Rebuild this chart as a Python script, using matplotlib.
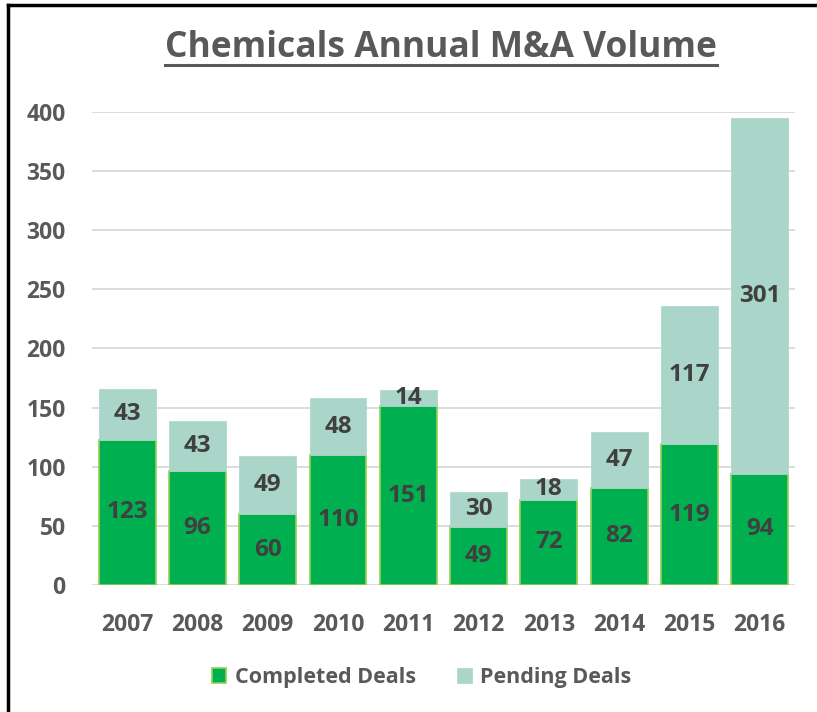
import matplotlib
matplotlib.use("Agg")
import matplotlib.pyplot as plt
from matplotlib.lines import Line2D
import numpy as np

years = ["2007", "2008", "2009", "2010", "2011", "2012", "2013", "2014", "2015", "2016"]
completed = [123, 96, 60, 110, 151, 49, 72, 82, 119, 94]
pending = [43, 43, 49, 48, 14, 30, 18, 47, 117, 301]

GREEN = "#00B050"
GREEN_EDGE = "#92D050"
PENDING = "#A9D6C8"
TEXT = "#595959"
LABEL = "#404040"

plt.rcParams["font.family"] = ["Open Sans", "DejaVu Sans"]
plt.rcParams["font.weight"] = "bold"

fig = plt.figure(figsize=(8.17, 7.12), dpi=100)
ax = fig.add_axes([0.1126, 0.1784, 0.8604, 0.6643])

x = np.arange(len(years))
w = 0.81
ax.bar(x, completed, w, color=GREEN, edgecolor=GREEN_EDGE, linewidth=1.2,
       label="Completed Deals", zorder=3)
ax.bar(x, pending, w, bottom=completed, color=PENDING, edgecolor=PENDING,
       linewidth=0.5, label="Pending Deals", zorder=3)

for i in range(len(years)):
    ax.text(x[i], completed[i] / 2, str(completed[i]), ha="center", va="center",
            fontsize=17.5, fontweight="bold", color=LABEL, zorder=4)
    ax.text(x[i], completed[i] + pending[i] / 2, str(pending[i]), ha="center",
            va="center", fontsize=17.5, fontweight="bold", color=LABEL, zorder=4)

ax.set_xlim(-0.5, len(years) - 0.5)
ax.set_ylim(0, 400)
ax.set_yticks(range(0, 401, 50))
ax.set_xticks(x)
ax.set_xticklabels(years)
ax.tick_params(axis="both", length=0, labelsize=16.5, labelcolor=TEXT)
ax.tick_params(axis="y", pad=19)
ax.tick_params(axis="x", pad=20)
for lbl in ax.get_xticklabels() + ax.get_yticklabels():
    lbl.set_fontweight("bold")
ax.yaxis.grid(True, color="#D9D9D9", linewidth=1.3, zorder=0)
ax.set_axisbelow(True)
for s in ax.spines.values():
    s.set_visible(False)

t = fig.text(0.54, 0.920, "Chemicals Annual M&A Volume", ha="center", va="baseline",
             fontsize=25.5, fontweight="bold", color=TEXT)
fig.canvas.draw()
bb = t.get_window_extent().transformed(fig.transFigure.inverted())
fig.add_artist(Line2D([bb.x0, bb.x1], [0.9087, 0.9087], color=TEXT, linewidth=2.2))

leg = fig.legend(loc="center", bbox_to_anchor=(0.516, 0.048), ncol=2, frameon=False,
                 fontsize=15.5, handlelength=0.68, handleheight=0.68,
                 columnspacing=1.9, handletextpad=0.4)
for txt in leg.get_texts():
    txt.set_color(TEXT)
    txt.set_fontweight("bold")

# chart frame (left and top edges visible in the reference)
fig.add_artist(Line2D([0.010, 0.010], [0.0, 0.993], color="black", linewidth=2.5))
fig.add_artist(Line2D([0.010, 1.0], [0.993, 0.993], color="black", linewidth=2.5))

fig.savefig("out.png", dpi=100)
